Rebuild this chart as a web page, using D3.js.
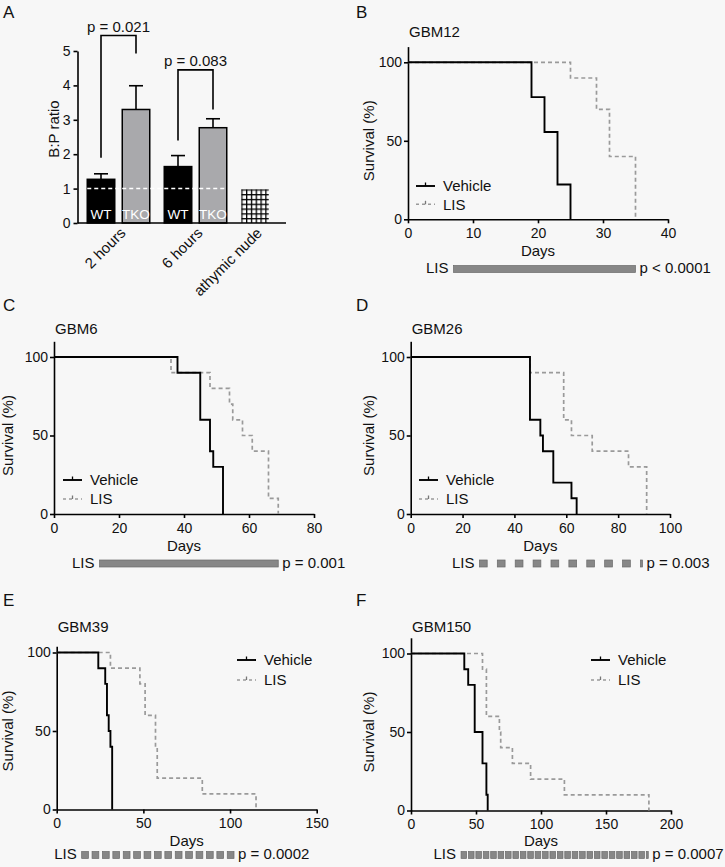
<!DOCTYPE html>
<html><head><meta charset="utf-8">
<script src="https://cdn.jsdelivr.net/npm/d3@7"></script>
<style>
body{margin:0;background:#f7f7f7;}
svg{display:block;}
</style></head><body><script>
// ---------------- Panel A data ----------------
const bpGroups = ["2 hours", "6 hours", "athymic nude"];
const bpBarGroup = [0, 0, 1, 1, 2];
const bpBarLabel = ["WT", "TKO", "WT", "TKO", ""];
const bpBarKind = ["wt", "tko", "wt", "tko", "nude"];
const bpMean = [1.27, 3.30, 1.64, 2.77, 0.98];
const bpUpper = [1.43, 3.99, 1.96, 3.03, 0.98];
const bpTicks = [0, 1, 2, 3, 4, 5];
const bpRefValue = 1;
const bpCompLeft = [0, 2];
const bpCompRight = [1, 3];
const bpCompTop = [5.45, 4.45];
const bpCompLeftEnd = [1.9, 2.4];
const bpCompRightEnd = [4.93, 3.3];
const bpCompLabel = ["p = 0.021", "p = 0.083"];

// ---------------- Survival data [day, % surviving] ----------------
const gbm12Vehicle = [[0,100],[19,77.8],[21,55.6],[23,22.2],[25,0]];
const gbm12LIS     = [[0,100],[25,90],[29,70],[31,40],[35,0]];
const gbm6Vehicle  = [[0,100],[38,90],[45,60],[48,40],[49,30],[52,0]];
const gbm6LIS      = [[0,100],[36,90],[48,80],[54,70],[55,60],[58,50],[61,40],[66,10],[69,0]];
const gbm26Vehicle = [[0,100],[46,60],[50,50],[51,40],[55,20],[62,10],[64,0]];
const gbm26LIS     = [[0,100],[46,90],[59,60],[62,50],[70,40],[84,30],[91,0]];
const gbm39Vehicle = [[0,100],[24,90],[28,80],[29,60],[30,50],[31,40],[32,0]];
const gbm39LIS     = [[0,100],[31,90],[48,80],[51,60],[57,40],[58,20],[84,10],[115,0]];
const gbm150Vehicle= [[0,100],[41,90],[44,80],[49,50],[55,30],[58,10],[59,0]];
const gbm150LIS    = [[0,100],[55,90],[58,60],[68,50],[69,40],[78,30],[92,20],[118,10],[183,0]];

const ticksB = [0,10,20,30,40];
const ticksC = [0,20,40,60,80];
const ticksD = [0,20,40,60,80,100];
const ticksE = [0,50,100,150];
const ticksF = [0,50,100,150,200];
const survTicks = [0,50,100];

// LIS treatment schedules (days)
const lisSpanB = [7, 35];
const lisSpanC = [14, 69];
const lisDosesD = [26.5,33.4,40.3,47.2,54.1,61,67.9,74.8,81.7,88.6];
const lisSpanD = [26.5, 89.4];
const lisDoseLenD = 3;
const lisDosesE = [14.4,20.4,26.4,32.4,38.4,44.4,50.4,56.4,62.4,68.4,74.4,80.4,86.4,92.4,98.4];
const lisSpanE = [14.4, 102.3];
const lisDoseLenE = 3.9;
const lisDosesF = [38.5,44.2,49.9,55.6,61.3,67,72.7,78.4,84.1,89.8,95.5,101.2,106.9,112.6,118.3,124,129.7,135.4,141.1,146.8,152.5,158.2,163.9,169.6,175.3,181];
const lisSpanF = [38.5, 182.5];
const lisDoseLenF = 4.3;

const pLabels = ["p < 0.0001", "p = 0.001", "p = 0.003", "p = 0.0002", "p = 0.0007"];
const modelNames = ["GBM12", "GBM6", "GBM26", "GBM39", "GBM150"];
const seriesNames = ["Vehicle", "LIS"];

// ---------------- Drawing ----------------
const W = 725, H = 867;
const FONT = '"Liberation Sans", Arial, Helvetica, sans-serif';
const INK = "#111";
const FS = 15, FT = 14;
const svg = d3.select("body").append("svg").attr("width", W).attr("height", H)
  .attr("font-family", FONT);
svg.append("rect").attr("width", W).attr("height", H).attr("fill", "#f7f7f7");

function styleAxis(g, fs) {
  g.attr("font-family", FONT).attr("font-size", fs);
  g.select(".domain").attr("stroke", "#000").attr("stroke-width", 1.6);
  g.selectAll(".tick line").attr("stroke", "#000").attr("stroke-width", 1.6);
  g.selectAll(".tick text").attr("fill", INK);
}
function letter(t, x, y) {
  svg.append("text").attr("x", x).attr("y", y).attr("font-size", 17).attr("fill", INK).text(t);
}

// ----- Panel A -----
(function () {
  const y = d3.scaleLinear().domain([0, 5]).range([223, 51]);
  const firstIdx = bpGroups.map((g, gi) => bpBarGroup.indexOf(gi));
  const slot = i => bpBarGroup[i] * 2.2 + (i - firstIdx[bpBarGroup[i]]);
  const x = d3.scaleLinear().domain([0, 4.4]).range([101, 255]);
  const bw = 27.5;
  const defs = svg.append("defs");
  const nudeIdx = bpBarKind.indexOf("nude");
  const pat = defs.append("pattern").attr("id", "grid").attr("patternUnits", "userSpaceOnUse")
    .attr("width", 4.8).attr("height", 4.8)
    .attr("x", x(slot(nudeIdx)) - bw / 2).attr("y", y(bpMean[nudeIdx]));
  pat.append("rect").attr("width", 4.8).attr("height", 4.8).attr("fill", "#000");
  pat.append("rect").attr("x", 1.3).attr("y", 1.3).attr("width", 3.5).attr("height", 3.5).attr("fill", "#fff");

  const gA = svg.append("g");
  gA.append("g").attr("transform", "translate(77.5,0)")
    .call(d3.axisLeft(y).tickValues(bpTicks).tickFormat(d3.format("d")).tickSize(4).tickPadding(3).tickSizeOuter(0))
    .call(g => styleAxis(g, FT));
  bpMean.forEach((m, i) => {
    const cx = x(slot(i));
    const kind = bpBarKind[i];
    gA.append("rect").attr("x", cx - bw / 2).attr("y", y(m)).attr("width", bw).attr("height", y(0) - y(m))
      .attr("fill", kind === "wt" ? "#000" : kind === "tko" ? "#a9a9ac" : "url(#grid)")
      .attr("stroke", kind === "nude" ? "none" : "#000").attr("stroke-width", 1.5);
    if (bpUpper[i] > m) {
      gA.append("line").attr("x1", cx).attr("x2", cx).attr("y1", y(m)).attr("y2", y(bpUpper[i]))
        .attr("stroke", "#000").attr("stroke-width", 1.6);
      gA.append("line").attr("x1", cx - 7).attr("x2", cx + 7).attr("y1", y(bpUpper[i])).attr("y2", y(bpUpper[i]))
        .attr("stroke", "#000").attr("stroke-width", 1.6);
    }
  });
  const wtTkoIdx = bpBarKind.map((k, i) => k !== "nude" ? i : -1).filter(i => i >= 0);
  gA.append("line").attr("x1", x(slot(wtTkoIdx[0])) - bw / 2).attr("x2", x(slot(wtTkoIdx[wtTkoIdx.length - 1])) + bw / 2)
    .attr("y1", y(bpRefValue)).attr("y2", y(bpRefValue))
    .attr("stroke", "#fff").attr("stroke-width", 1.5).attr("stroke-dasharray", "4,3");
  bpBarLabel.forEach((t, i) => {
    if (!t) return;
    gA.append("text").attr("x", x(slot(i))).attr("y", 219).attr("text-anchor", "middle")
      .attr("font-size", 13.5).attr("fill", "#fff").text(t);
  });
  gA.append("line").attr("x1", 77.5).attr("x2", 286).attr("y1", y(0)).attr("y2", y(0))
    .attr("stroke", "#000").attr("stroke-width", 1.6);
  bpGroups.forEach((gname, gi) => {
    const idx = bpBarGroup.map((g, i) => g === gi ? i : -1).filter(i => i >= 0);
    const cx = d3.mean(idx, i => x(slot(i)));
    gA.append("text").attr("text-anchor", "end").attr("font-size", FS).attr("fill", INK)
      .attr("transform", `translate(${cx + 8},${y(0) + 11}) rotate(-45)`).text(gname);
  });
  bpCompLabel.forEach((lab, k) => {
    const xl = x(slot(bpCompLeft[k])), xr = x(slot(bpCompRight[k]));
    gA.append("path").attr("fill", "none").attr("stroke", "#000").attr("stroke-width", 1.6)
      .attr("d", `M${xl},${y(bpCompLeftEnd[k])}V${y(bpCompTop[k])}H${xr}V${y(bpCompRightEnd[k])}`);
    gA.append("text").attr("x", (xl + xr) / 2).attr("y", y(bpCompTop[k]) - 4).attr("text-anchor", "middle")
      .attr("font-size", FS).attr("fill", INK).text(lab);
  });
  gA.append("text").attr("font-size", FS).attr("fill", INK).attr("text-anchor", "middle")
    .attr("transform", "translate(54,129) rotate(-90)").attr("dy", "0.35em").text("B:P ratio");
  letter("A", 3, 18);
})();

// ----- Survival panels -----
const panels = [
  {L:"B", lx:356, ly:18, name:modelNames[0], veh:gbm12Vehicle, lis:gbm12LIS, xMax:40, ticks:ticksB, yTop:110,
   x0:408, x1:668, y0:219.3, y100:62.3, titleY:37, daysY:256, rowY:273, legX:416, legY:[186,204.3],
   span:lisSpanB, doses:null, doseLen:0, p:pLabels[0], ylabX:369},
  {L:"C", lx:3, ly:311, name:modelNames[1], veh:gbm6Vehicle, lis:gbm6LIS, xMax:80, ticks:ticksC, yTop:110,
   x0:54, x1:314, y0:514, y100:357, titleY:334, daysY:550.5, rowY:567.5, legX:63, legY:[480,499],
   span:lisSpanC, doses:null, doseLen:0, p:pLabels[1], ylabX:8},
  {L:"D", lx:356, ly:311, name:modelNames[2], veh:gbm26Vehicle, lis:gbm26LIS, xMax:100, ticks:ticksD, yTop:110,
   x0:410.7, x1:670, y0:514, y100:357, titleY:334, daysY:550.5, rowY:567.5, legX:419, legY:[480,499],
   span:lisSpanD, doses:lisDosesD, doseLen:lisDoseLenD, p:pLabels[2], ylabX:369},
  {L:"E", lx:3, ly:606, name:modelNames[3], veh:gbm39Vehicle, lis:gbm39LIS, xMax:150, ticks:ticksE, yTop:104,
   x0:56.7, x1:316.7, y0:809.5, y100:652.5, titleY:631.7, daysY:846, rowY:859, legX:237, legY:[660,680],
   span:lisSpanE, doses:lisDosesE, doseLen:lisDoseLenE, p:pLabels[3], ylabX:8},
  {L:"F", lx:356, ly:606, name:modelNames[4], veh:gbm150Vehicle, lis:gbm150LIS, xMax:200, ticks:ticksF, yTop:110,
   x0:411, x1:671, y0:810.5, y100:653.5, titleY:631.7, daysY:846, rowY:859, legX:591, legY:[660,680],
   span:lisSpanF, doses:lisDosesF, doseLen:lisDoseLenF, p:pLabels[4], ylabX:369},
];

panels.forEach(p => {
  const g = svg.append("g");
  const x = d3.scaleLinear().domain([0, p.xMax]).range([p.x0, p.x1]);
  const y = d3.scaleLinear().domain([0, 100]).range([p.y0, p.y100]);
  const yAx = d3.scaleLinear().domain([0, p.yTop]).range([p.y0, y(p.yTop)]);
  g.append("g").attr("transform", `translate(0,${p.y0})`)
    .call(d3.axisBottom(x).tickValues(p.ticks).tickSize(4).tickPadding(5).tickSizeOuter(0))
    .call(a => styleAxis(a, FT));
  g.append("g").attr("transform", `translate(${p.x0},0)`)
    .call(d3.axisLeft(yAx).tickValues(survTicks).tickSize(4).tickPadding(2).tickSizeOuter(0))
    .call(a => styleAxis(a, FT));
  const line = d3.line().x(d => x(d[0])).y(d => y(d[1])).curve(d3.curveStepAfter);
  g.append("path").datum(p.lis).attr("d", line).attr("fill", "none")
    .attr("stroke", "#9a9a9a").attr("stroke-width", 1.7).attr("stroke-dasharray", "4,3");
  g.append("path").datum(p.veh).attr("d", line).attr("fill", "none")
    .attr("stroke", "#000").attr("stroke-width", 1.9);
  g.append("text").attr("x", p.x0 + 1).attr("y", p.titleY).attr("font-size", FS).attr("fill", INK).text(p.name);
  g.append("text").attr("x", (p.x0 + p.x1) / 2).attr("y", p.daysY).attr("text-anchor", "middle")
    .attr("font-size", FS).attr("fill", INK).text("Days");
  g.append("text").attr("font-size", FS).attr("fill", INK).attr("text-anchor", "middle")
    .attr("transform", `translate(${p.ylabX},${(p.y0 + p.y100) / 2}) rotate(-90)`).attr("dy", "0.35em")
    .text("Survival (%)");
  seriesNames.forEach((s, k) => {
    const ly = p.legY[k];
    g.append("line").attr("x1", p.legX).attr("x2", p.legX + 19).attr("y1", ly).attr("y2", ly)
      .attr("stroke", k === 0 ? "#000" : "#9a9a9a").attr("stroke-width", k === 0 ? 1.9 : 1.6)
      .attr("stroke-dasharray", k === 0 ? null : "3,3");
    g.append("line").attr("x1", p.legX + 9.5).attr("x2", p.legX + 9.5).attr("y1", ly).attr("y2", ly - 3.5)
      .attr("stroke", k === 0 ? "#000" : "#777").attr("stroke-width", 1.3);
    g.append("text").attr("x", p.legX + 27).attr("y", ly).attr("dy", "0.35em")
      .attr("font-size", FS).attr("fill", INK).text(s);
  });
  const r0 = x(p.span[0]), r1 = x(p.span[1]);
  g.append("text").attr("x", r0 - 5).attr("y", p.rowY).attr("text-anchor", "end")
    .attr("font-size", FS).attr("fill", INK).text(seriesNames[1]);
  if (!p.doses) {
    g.append("rect").attr("x", r0).attr("y", p.rowY - 7.5).attr("width", r1 - r0).attr("height", 7)
      .attr("fill", "#878787").attr("stroke", "#6a6a6a").attr("stroke-width", 0.7);
  } else {
    p.doses.forEach(d => {
      const a = x(d), b = Math.min(x(d + p.doseLen), r1);
      g.append("rect").attr("x", a).attr("y", p.rowY - 7.5).attr("width", Math.max(b - a, 1)).attr("height", 7)
        .attr("fill", "#878787").attr("stroke", "#6a6a6a").attr("stroke-width", 0.7);
    });
  }
  g.append("text").attr("x", r1 + 4).attr("y", p.rowY).attr("font-size", FS).attr("fill", INK).text(p.p);
  letter(p.L, p.lx, p.ly);
});
</script></body></html>
